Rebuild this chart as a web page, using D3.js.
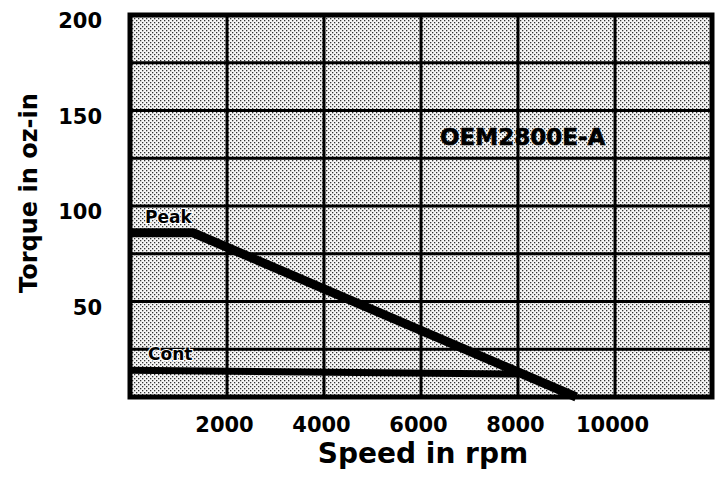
<!DOCTYPE html>
<html><head><meta charset="utf-8">
<script src="https://cdn.jsdelivr.net/npm/d3@7"></script>
<style>body{margin:0;background:#fff}svg{display:block}text{font-family:"DejaVu Sans",sans-serif;font-weight:bold}</style>
</head><body><svg id="c" width="723" height="479"></svg>
<script>
const xTicks = [2000, 4000, 6000, 8000, 10000];
const yTicks = [50, 100, 150, 200];
const peakSpeed = [0, 1300, 9200];
const peakTorque = [86, 86, 0];
const contSpeed = [0, 8000];
const contTorque = [14, 12];
const modelName = "OEM2800E-A";

const svg = d3.select("#c");
const L = 130, R = 712, T = 15, B = 397;
const x = d3.scaleLinear().domain([0, 12000]).range([L, R]);
const y = d3.scaleLinear().domain([0, 200]).range([B, T]);

const defs = svg.append("defs");
const pat = defs.append("pattern").attr("id","dots").attr("width",4).attr("height",4).attr("patternUnits","userSpaceOnUse");
pat.append("rect").attr("width",4).attr("height",4).attr("fill","#f6f6f6");
pat.append("rect").attr("x",0).attr("y",0).attr("width",1.3).attr("height",1.3).attr("fill","#333");
pat.append("rect").attr("x",2).attr("y",2).attr("width",1.3).attr("height",1.3).attr("fill","#333");

svg.append("rect").attr("x",L).attr("y",T).attr("width",R-L).attr("height",B-T).attr("fill","url(#dots)");

// grid
const vg = d3.range(2000, 12000, 2000);
svg.append("g").selectAll("line").data(vg).join("line")
  .attr("x1",d=>x(d)).attr("x2",d=>x(d)).attr("y1",T).attr("y2",B)
  .attr("stroke","#000").attr("stroke-width",3);
const hg = d3.range(25, 200, 25);
svg.append("g").selectAll("line").data(hg).join("line")
  .attr("y1",d=>y(d)).attr("y2",d=>y(d)).attr("x1",L).attr("x2",R)
  .attr("stroke","#000").attr("stroke-width",3);

svg.append("rect").attr("x",L).attr("y",T).attr("width",R-L).attr("height",B-T)
  .attr("fill","none").attr("stroke","#000").attr("stroke-width",5);

// axes labels
const xa = d3.axisBottom(x).tickValues(xTicks).tickSize(0).tickFormat(d3.format("d"));
const gx = svg.append("g").attr("transform",`translate(0,${B})`).call(xa);
gx.select(".domain").remove();
gx.selectAll("text").attr("dy",0).attr("dx",-3).attr("y",35).attr("font-size",21).attr("font-weight","bold").attr("font-family","DejaVu Sans").attr("fill","#000");

const ya = d3.axisLeft(y).tickValues(yTicks).tickSize(0).tickFormat(d3.format("d"));
const gy = svg.append("g").attr("transform",`translate(${L},0)`).call(ya);
gy.select(".domain").remove();
gy.selectAll("text").attr("x",-28).attr("dy","0.6em").attr("font-size",21).attr("font-weight","bold").attr("font-family","DejaVu Sans").attr("fill","#000");

svg.append("text").attr("x",423).attr("y",463).attr("text-anchor","middle").attr("font-size",28).text("Speed in rpm");
svg.append("text").attr("transform","translate(37,193) rotate(-90)").attr("text-anchor","middle").attr("font-size",24).text("Torque in oz-in");

// curves
const line = d3.line().x(d=>x(d[0])).y(d=>y(d[1]));
svg.append("path").datum(peakSpeed.map((s,i)=>[s,peakTorque[i]]))
  .attr("d",line).attr("fill","none").attr("stroke","#000").attr("stroke-width",9).attr("stroke-linejoin","round");
svg.append("path").datum(contSpeed.map((s,i)=>[s,contTorque[i]]))
  .attr("d",line).attr("fill","none").attr("stroke","#000").attr("stroke-width",7);

svg.append("text").attr("x",145).attr("y",223).attr("font-size",17).attr("fill","#000").attr("stroke","#fff").attr("stroke-width",2).attr("paint-order","stroke").text("Peak");
svg.append("text").attr("x",148).attr("y",360).attr("font-size",17).attr("fill","#000").attr("stroke","#fff").attr("stroke-width",2).attr("paint-order","stroke").text("Cont");
svg.append("text").attr("x",440).attr("y",145).attr("font-size",23).attr("font-weight","normal").attr("fill","#000").attr("stroke","#000").attr("stroke-width",0.6).text(modelName);
</script></body></html>
